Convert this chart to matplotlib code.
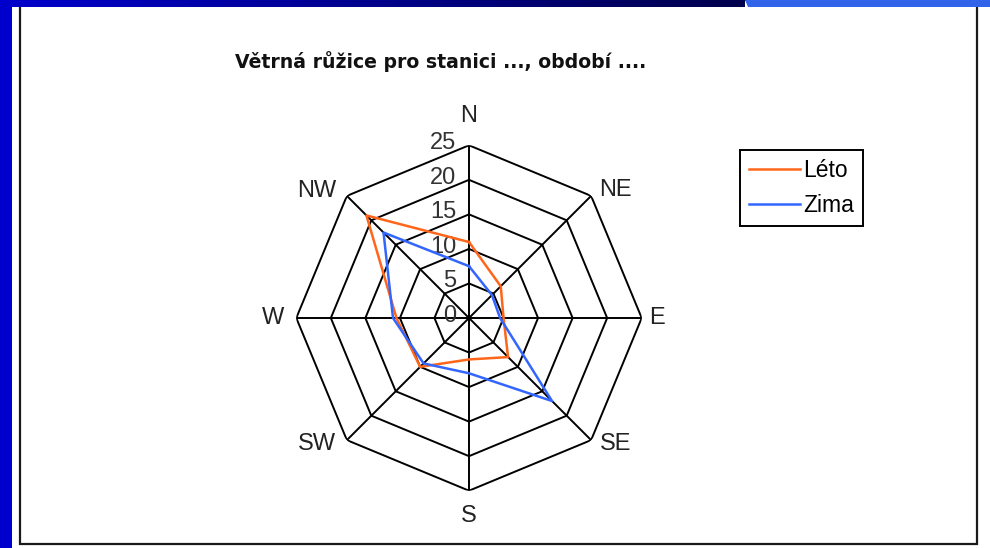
import numpy as np
import matplotlib
matplotlib.use("Agg")
import matplotlib.pyplot as plt
from matplotlib.patches import Rectangle, Polygon

# wind rose data (frequency, %)
directions = ["N", "NE", "E", "SE", "S", "SW", "W", "NW"]
leto = [11, 6.5, 5, 8, 6, 10, 10.5, 21]
zima = [7.5, 4.7, 4.5, 17, 8, 9.3, 11, 17.5]
ring_levels = [5, 10, 15, 20, 25]
tick_labels = ["0", "5", "10", "15", "20", "25"]
title = "Větrná růžice pro stanici ..., období ...."

W, H = 990, 548
plt.rcParams["font.family"] = ["Liberation Sans", "DejaVu Sans"]
fig = plt.figure(figsize=(W / 100, H / 100), dpi=100)
fig.patch.set_facecolor("white")


def fx(x):
    return x / W


def fy(y):
    return 1 - y / H


# slide decoration: box border, blue bars
fig.patches.append(Rectangle((fx(20), fy(544)), fx(977) - fx(20), fy(0) - fy(544),
                             transform=fig.transFigure, facecolor="none",
                             edgecolor="#1a1a1a", linewidth=1.6, zorder=-1))
fig.patches.append(Rectangle((0, 0), fx(12), 1, transform=fig.transFigure,
                             facecolor="#0000cc", edgecolor="none", zorder=5))
bar = fig.add_axes([0, fy(7), 1, 7 / H], zorder=6)
grad = np.linspace(0, 1, 256)
c0 = np.array([0.0, 0.0, 0.80])
c1 = np.array([0.0, 0.0, 0.30])
img = (c0[None, :] * (1 - grad[:, None]) + c1[None, :] * grad[:, None])[None, :, :]
bar.imshow(img, aspect="auto", extent=[0, 745, 0, 1])
bar.add_patch(Polygon([[745, 1], [W, 1], [W, 0], [748, 0]], closed=True,
                      facecolor="#3164e8", edgecolor="none"))
bar.set_xlim(0, W)
bar.set_ylim(0, 1)
bar.axis("off")

# radar axes
cx, cy, R = 469, 318, 172.7
ax = fig.add_axes([fx(cx - R), fy(cy + R), 2 * R / W, 2 * R / H],
                  projection="polar", zorder=2)
ax.set_theta_zero_location("N")
ax.set_theta_direction(-1)
ax.set_ylim(0, 25)
ax.grid(False)
ax.spines["polar"].set_visible(False)
ax.set_xticks([])
ax.set_yticks([])
ax.patch.set_alpha(0)

theta = np.deg2rad(np.arange(len(directions)) * 360 / len(directions))
theta_c = np.append(theta, theta[0])

for lvl in ring_levels:
    ax.plot(theta_c, [lvl] * len(theta_c), color="black", lw=1.4, zorder=1)
for t in theta:
    ax.plot([t, t], [0, 25], color="black", lw=1.4, zorder=1)

l1, = ax.plot(theta_c, leto + leto[:1], color="#ff661a", lw=1.8, label="Léto", zorder=3)
l2, = ax.plot(theta_c, zima + zima[:1], color="#3366ff", lw=1.8, label="Zima", zorder=3)

# direction labels
offsets = [(0, 29), (24, 6), (15, 0), (25, -4), (0, -25), (-30, -4), (-23, 0), (-30, 5)]
for t, name, off in zip(theta, directions, offsets):
    ax.annotate(name, xy=(t, 25), xytext=off, textcoords="offset pixels",
                ha="center", va="center", fontsize=17, color="#222222",
                annotation_clip=False)

# radial tick labels
for v, lab in zip([0] + ring_levels, tick_labels):
    ax.annotate(lab, xy=(0, v), xytext=(-13, 2), textcoords="offset pixels",
                ha="right", va="center", fontsize=17, color="#333333", zorder=2,
                annotation_clip=False)

fig.text(fx(441), fy(68.5), title, ha="center", va="baseline",
         fontsize=13.6, fontweight="bold", family="DejaVu Sans", color="#111111")

leg = fig.legend(handles=[l1, l2], loc="upper left", bbox_to_anchor=(fx(740), fy(150)),
                 fontsize=16.5, frameon=True, fancybox=False, edgecolor="black",
                 framealpha=1, borderaxespad=0, handlelength=2.2, handletextpad=0.15,
                 borderpad=0.4, labelspacing=0.5)
leg.get_frame().set_linewidth(1.4)

fig.savefig("out.png", dpi=100)
